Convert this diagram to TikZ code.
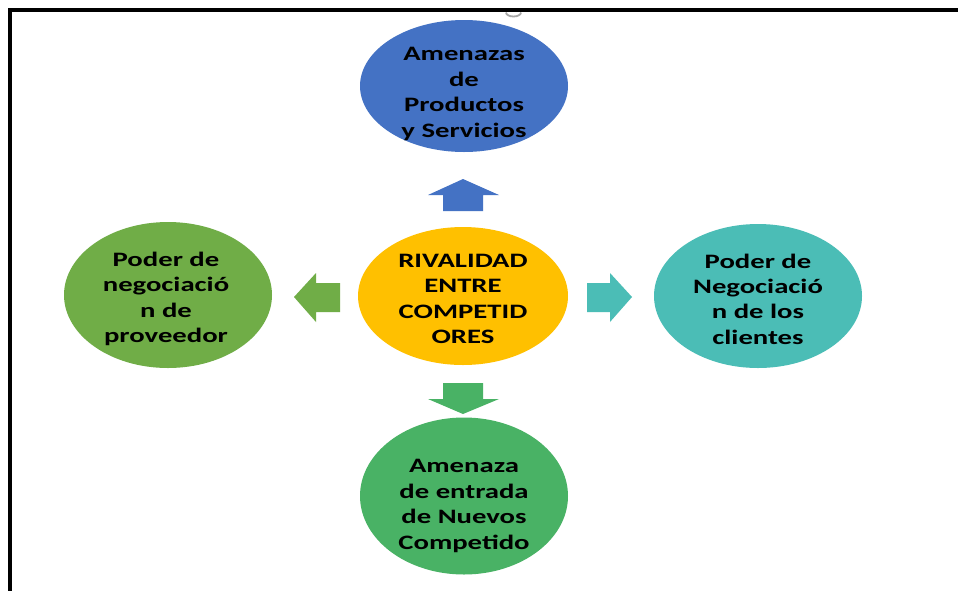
\documentclass[tikz,border=0pt]{standalone}
\usepackage{fontspec}
\setmainfont{Carlito}[FakeStretch=1.4]
\definecolor{cblue}{HTML}{4472C4}
\definecolor{cyellow}{HTML}{FFC000}
\definecolor{cgreenL}{HTML}{70AD47}
\definecolor{cteal}{HTML}{4BBDB6}
\definecolor{cgreenB}{HTML}{49B265}
\tikzset{
  bubble/.style={ellipse, draw=none, inner sep=0pt},
  bubbletext/.style={align=center, inner sep=0pt, font=\bfseries\fontsize{20.5}{25.4}\selectfont, text=black},
}
\usetikzlibrary{shapes.geometric}
\begin{document}
\begin{tikzpicture}[x=1pt,y=-1pt]
\useasboundingbox (0,0) rectangle (958,590);
\clip (0,0) rectangle (958,590);
\fill[white] (0,0) rectangle (958,590);
% frame
\draw[line width=4pt] (10,600) -- (10,10) -- (970,10);
% grey glyph fragment
\draw[gray!70, line width=1.8pt] (506,12.5) arc[start angle=180, end angle=360, x radius=7.5pt, y radius=4pt];
% ellipses
\node[bubble, fill=cblue, minimum width=208pt, minimum height=132pt] (threat) at (464,86) {};
\node[bubble, fill=cyellow, minimum width=210pt, minimum height=138pt] (rival) at (463,296) {};
\node[bubble, fill=cgreenL, minimum width=208pt, minimum height=146pt] (supplier) at (168,295) {};
\node[bubble, fill=cteal, minimum width=208pt, minimum height=144pt] (clients) at (758,296) {};
\node[bubble, fill=cgreenB, minimum width=208pt, minimum height=157pt] (entrants) at (464,496) {};
% texts
\node[bubbletext] (threattxt) at (464,94) {Amenazas\\de\\Productos\\y Servicios};
\node[bubbletext] (rivaltxt) at (463,299) {RIVALIDAD\\ENTRE\\COMPETID\\ORES};
\node[bubbletext] (suppliertxt) at (166,299) {Poder de\\negociació\\n de\\proveedor};
\node[bubbletext] (clientstxt) at (758,299) {Poder de\\Negociació\\n de los\\clientes};
\node[bubbletext] (entrantstxt) at (464,506) {Amenaza\\de entrada\\de Nuevos\\Competido};
% arrows
\fill[cblue] (443,211) -- (443,195) -- (428,195) -- (463,179) -- (499,195) -- (483,195) -- (483,211) -- cycle;
\fill[cgreenL] (340,283) -- (316,283) -- (316,273) -- (294,297) -- (316,322) -- (316,312) -- (340,312) -- cycle;
\fill[cteal] (587,283) -- (610,283) -- (610,273) -- (632,297) -- (610,322) -- (610,312) -- (587,312) -- cycle;
\fill[cgreenB] (443,383) -- (443,399) -- (428,399) -- (463,414) -- (499,399) -- (483,399) -- (483,383) -- cycle;
\end{tikzpicture}
\end{document}
